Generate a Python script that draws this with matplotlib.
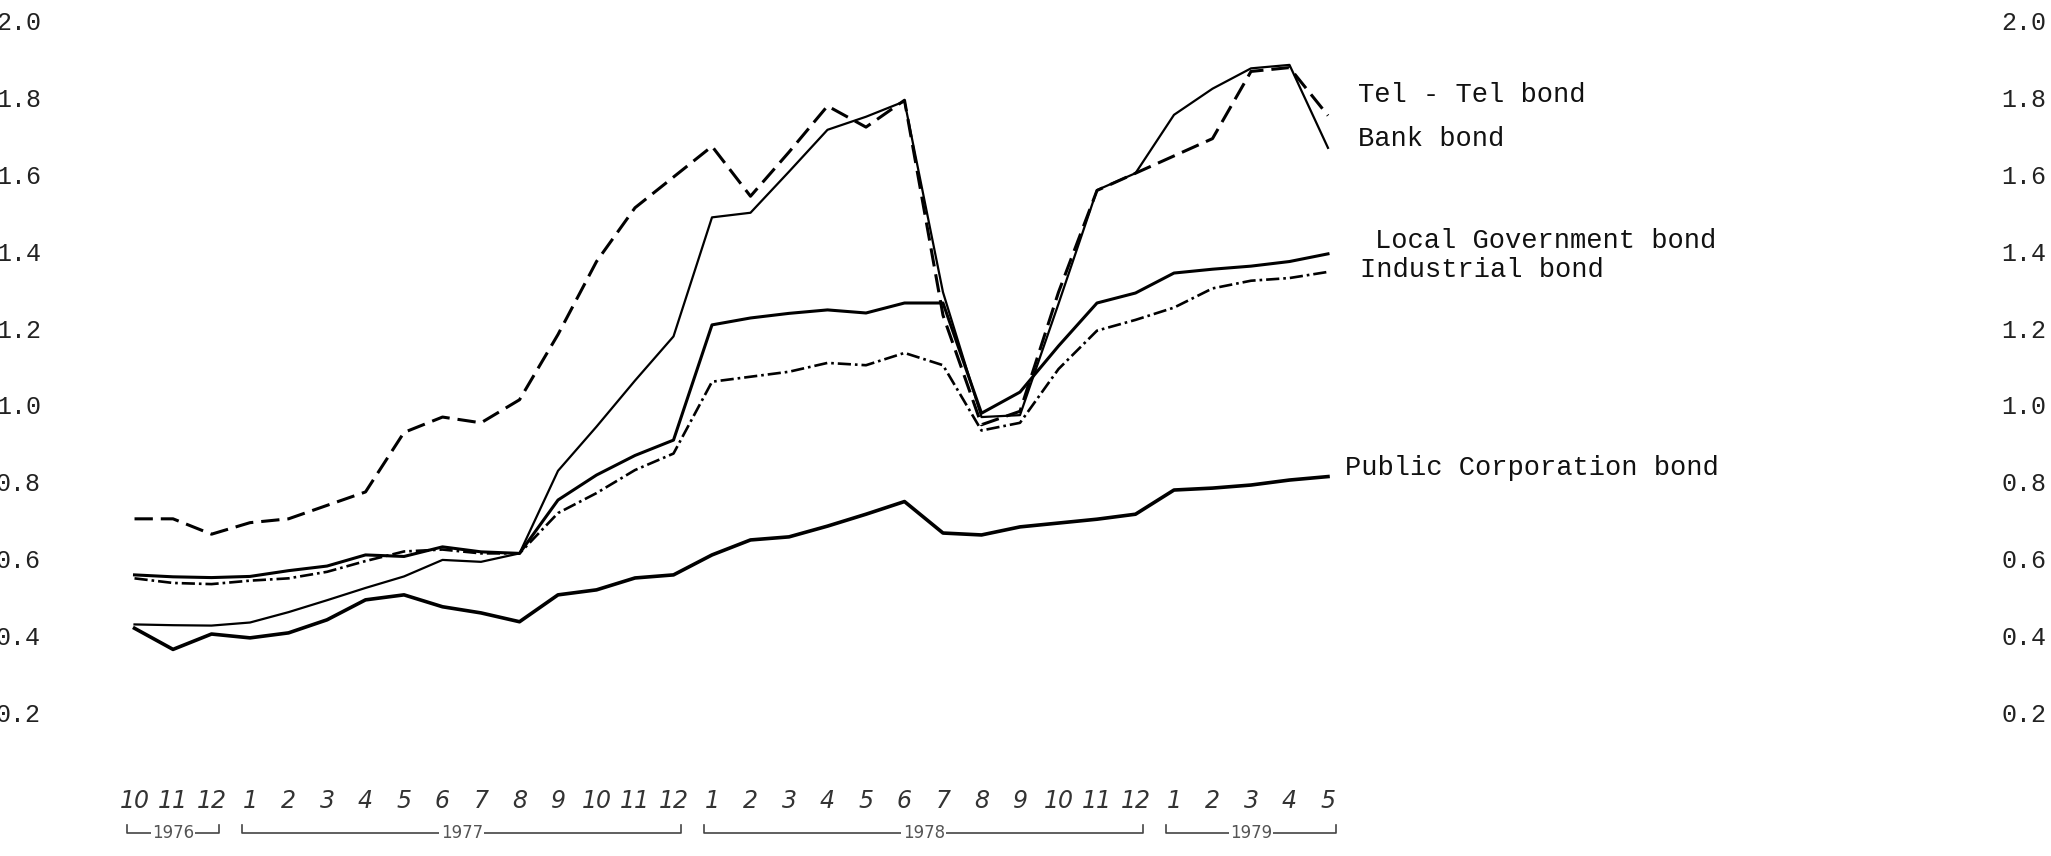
"""Yield spread of bond types, Oct 1976 - May 1979 (typewritten chart)."""

import matplotlib.pyplot as plt

# month labels along the bottom, Oct 1976 .. May 1979
months = ["10", "11", "12",
          "1", "2", "3", "4", "5", "6", "7", "8", "9", "10", "11", "12",
          "1", "2", "3", "4", "5", "6", "7", "8", "9", "10", "11", "12",
          "1", "2", "3", "4", "5"]
years = ["1976", "1977", "1978", "1979"]

tel_tel = [0.71, 0.71, 0.67, 0.70, 0.71, 0.745, 0.78, 0.935, 0.975, 0.96,
           1.02, 1.19, 1.38, 1.52, 1.60, 1.68, 1.55, 1.665, 1.785, 1.73,
           1.80, 1.24, 0.955, 0.99, 1.30, 1.565, 1.61, 1.655, 1.70, 1.875,
           1.885, 1.76]
bank = [0.435, 0.433, 0.432, 0.44, 0.467, 0.498, 0.53, 0.56, 0.603, 0.598,
        0.62, 0.835, 0.95, 1.07, 1.185, 1.495, 1.507, 1.614, 1.723, 1.757,
        1.797, 1.30, 0.975, 0.98, 1.27, 1.566, 1.61, 1.762, 1.83, 1.883,
        1.892, 1.676]
local_gov = [0.564, 0.559, 0.557, 0.56, 0.575, 0.587, 0.616, 0.612, 0.637,
             0.624, 0.62, 0.759, 0.824, 0.875, 0.915, 1.215, 1.233, 1.245,
             1.254, 1.246, 1.272, 1.272, 0.985, 1.04, 1.16, 1.272, 1.298,
             1.35, 1.36, 1.368, 1.38, 1.40]
industrial = [0.555, 0.543, 0.54, 0.549, 0.555, 0.572, 0.60, 0.625, 0.63,
              0.62, 0.62, 0.725, 0.777, 0.837, 0.88, 1.067, 1.08, 1.093,
              1.116, 1.11, 1.142, 1.11, 0.94, 0.96, 1.10, 1.20, 1.228, 1.26,
              1.31, 1.33, 1.337, 1.353]
public_corp = [0.425, 0.37, 0.41, 0.40, 0.413, 0.447, 0.499, 0.512, 0.481,
               0.465, 0.442, 0.512, 0.525, 0.556, 0.564, 0.616, 0.655, 0.663,
               0.691, 0.722, 0.755, 0.673, 0.668, 0.689, 0.699, 0.709, 0.722,
               0.785, 0.79, 0.798, 0.811, 0.82]

y_ticks = [2.0, 1.8, 1.6, 1.4, 1.2, 1.0, 0.8, 0.6, 0.4, 0.2]

TYPE = "Liberation Mono"


def main() -> None:
    fig = plt.figure(figsize=(20.51, 8.56), dpi=100)
    ax = fig.add_axes([0, 0, 1, 1])
    ax.set_xlim(-3.494, 49.78)
    ax.set_ylim(-0.168, 2.061)
    ax.axis("off")

    x = list(range(len(months)))

    ax.plot(x, tel_tel, color="black", lw=2.2, ls=(0, (6, 2.6)))
    ax.plot(x, bank, color="black", lw=1.6)
    ax.plot(x, local_gov, color="black", lw=2.2)
    ax.plot(x, industrial, color="black", lw=1.9, ls=(0, (5, 1.5, 1, 1.5)))
    ax.plot(x, public_corp, color="black", lw=2.6)

    # series names typed next to the line ends
    labels = [
        ("Tel - Tel bond", 31.78, 1.814),
        ("Bank bond", 31.78, 1.699),
        ("Local Government bond", 32.22, 1.434),
        ("Industrial bond", 31.83, 1.358),
        ("Public Corporation bond", 31.44, 0.843),
    ]
    for text, lx, ly in labels:
        ax.text(lx, ly, text, family=TYPE, fontsize=19.5, ha="left",
                va="center", color="#111111")

    # value scale typed down both edges
    for v in y_ticks:
        ax.text(-3.6, v, f"{v:.1f}", family=TYPE, fontsize=18, ha="left",
                va="center", color="#222222")
        ax.text(48.5, v, f"{v:.1f}", family=TYPE, fontsize=18, ha="left",
                va="center", color="#222222")

    # handwritten month numbers and year brackets
    for i, m in enumerate(months):
        ax.text(i, -0.025, m, fontsize=17, ha="center", va="center",
                style="italic", color="#333333")

    starts = [0] + [i for i, m in enumerate(months) if m == "1"]
    ends = [s - 1 for s in starts[1:]] + [len(months) - 1]
    y_br = -0.108
    for year, s, e in zip(years, starts, ends):
        ax.plot([s - 0.2, s - 0.2, e + 0.2, e + 0.2],
                [y_br + 0.02, y_br, y_br, y_br + 0.02],
                color="#444444", lw=1.2)
        ax.text((s + e) / 2, y_br, year, fontsize=12, ha="center",
                va="center", color="#555555",
                bbox=dict(facecolor="white", edgecolor="none", pad=1))

    fig.savefig("out.png", dpi=100, facecolor="white")
    plt.close(fig)


if __name__ == "__main__":
    main()
